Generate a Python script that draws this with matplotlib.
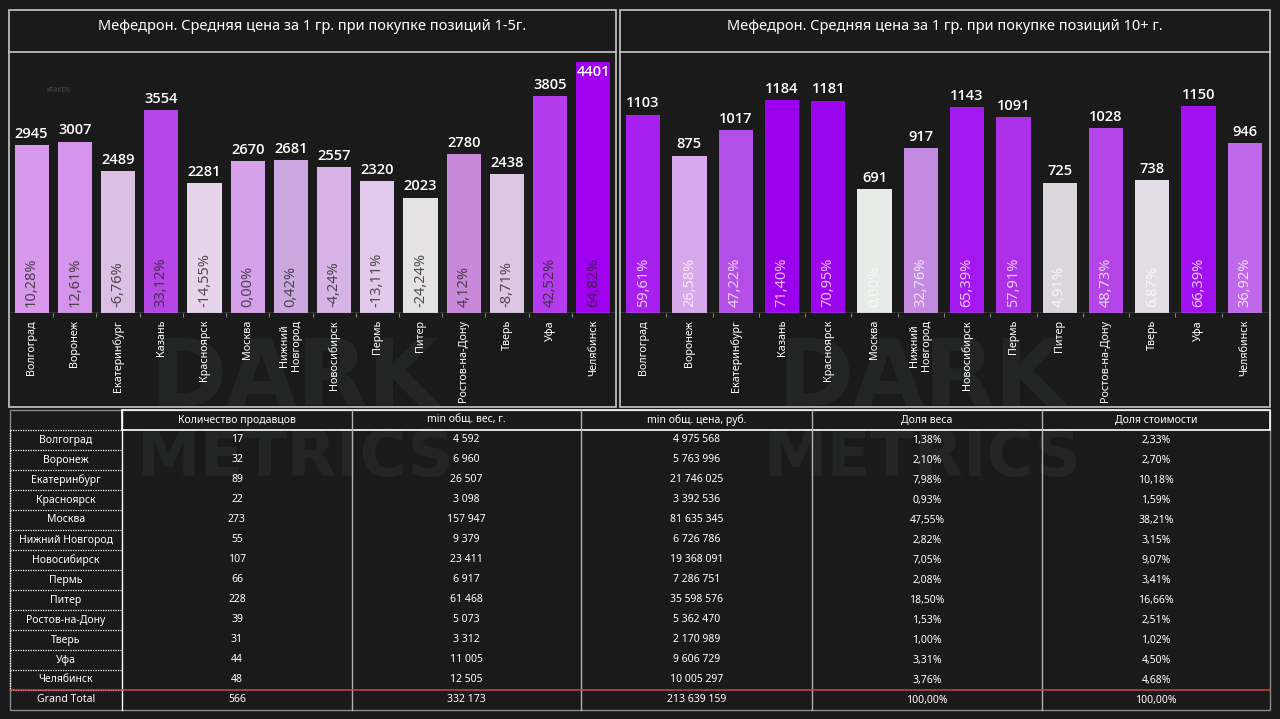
import matplotlib
matplotlib.use("Agg")
import matplotlib.pyplot as plt
from matplotlib.patches import Rectangle

# --- chart data ---
cities = ["Волгоград", "Воронеж", "Екатеринбург", "Казань", "Красноярск", "Москва",
          "Нижний\nНовгород", "Новосибирск", "Пермь", "Питер", "Ростов-на-Дону",
          "Тверь", "Уфа", "Челябинск"]
price_small = [2945, 3007, 2489, 3554, 2281, 2670, 2681, 2557, 2320, 2023, 2780, 2438, 3805, 4401]
pct_small = [10.28, 12.61, -6.76, 33.12, -14.55, 0.00, 0.42, -4.24, -13.11, -24.24, 4.12, -8.71, 42.52, 64.82]
price_large = [1103, 875, 1017, 1184, 1181, 691, 917, 1143, 1091, 725, 1028, 738, 1150, 946]
pct_large = [59.61, 26.58, 47.22, 71.40, 70.95, 0.00, 32.76, 65.39, 57.91, 4.91, 48.73, 6.87, 66.39, 36.92]

# --- table data ---
table_cities = ["Волгоград", "Воронеж", "Екатеринбург", "Красноярск", "Москва", "Нижний Новгород",
                "Новосибирск", "Пермь", "Питер", "Ростов-на-Дону", "Тверь", "Уфа", "Челябинск"]
sellers = [17, 32, 89, 22, 273, 55, 107, 66, 228, 39, 31, 44, 48]
min_weight = [4592, 6960, 26507, 3098, 157947, 9379, 23411, 6917, 61468, 5073, 3312, 11005, 12505]
min_price = [4975568, 5763996, 21746025, 3392536, 81635345, 6726786, 19368091, 7286751,
             35598576, 5362470, 2170989, 9606729, 10005297]
weight_share = [1.38, 2.10, 7.98, 0.93, 47.55, 2.82, 7.05, 2.08, 18.50, 1.53, 1.00, 3.31, 3.76]
cost_share = [2.33, 2.70, 10.18, 1.59, 38.21, 3.15, 9.07, 3.41, 16.66, 2.51, 1.02, 4.50, 4.68]
totals = ["566", "332 173", "213 639 159", "100,00%", "100,00%"]
headers = ["Количество продавцов", "min общ. вес, г.", "min общ. цена, руб.", "Доля веса", "Доля стоимости"]

# bar colours
colors_small = ["#d898ec", "#d494ea", "#dcc0e4", "#b646e6", "#e6d4ea", "#d6a0ea", "#cca8e0",
                "#d8b4e6", "#e2c8ea", "#e4e2e2", "#c888d8", "#dcc6e4", "#b43cee", "#a000f0"]
colors_large = ["#a820f0", "#d8a8ec", "#b34ee6", "#9a00ee", "#9c06ee", "#e6ece8", "#c48ae2",
                "#a318ee", "#ac30e8", "#dcd6dc", "#b444e8", "#e4dce6", "#a010f0", "#c068ec"]

BG = "#1b1a1a"
LINE = "#c8c8c8"
W, H = 1280, 719
BOLD_FONT = ["Open Sans", "Noto Sans", "DejaVu Sans"]

plt.rcParams["font.family"] = ["Noto Sans", "DejaVu Sans"]


def px(l, t, r, b):
    return [l / W, 1 - b / H, (r - l) / W, (b - t) / H]


def fmt_num(v):
    return f"{v:,}".replace(",", " ")


def fmt_pct(v):
    return f"{v:.2f}".replace(".", ",") + "%"


fig = plt.figure(figsize=(W / 100, H / 100), dpi=100, facecolor=BG)

# background / watermark layer
bg = fig.add_axes([0, 0, 1, 1], zorder=0)
bg.set_xlim(0, W)
bg.set_ylim(H, 0)
bg.axis("off")
for cx in (295, 922):
    bg.text(cx, 380, "DARK", ha="center", va="center", fontsize=66, fontweight="bold",
            color="#222524", family="DejaVu Sans")
    bg.text(cx, 458, "METRICS", ha="center", va="center", fontsize=46, fontweight="bold",
            color="#222524", family="DejaVu Sans")
bg.text(58, 90, "KRAKEN", ha="center", va="center", fontsize=4.5, color="#4a4a4a")


def draw_panel(rect, values, pcts, colors, ymax, width, pct_color, pct_alpha):
    ax = fig.add_axes(px(*rect), zorder=1)
    ax.set_facecolor("none")
    x = list(range(len(values)))
    ax.bar(x, values, width=width, color=colors, linewidth=0)
    ax.set_xlim(-0.5, len(values) - 0.5)
    ax.set_ylim(0, ymax)
    for i, (v, p) in enumerate(zip(values, pcts)):
        inside = v > ymax * 0.93
        ax.annotate(str(v), (i, v), xytext=(0, -2 if inside else 3), textcoords="offset points",
                    ha="center", va="top" if inside else "bottom", fontsize=10.5,
                    color="white", fontweight="semibold", family=BOLD_FONT)
        ax.annotate(fmt_pct(p), (i, 0), xytext=(0, 4), textcoords="offset points",
                    ha="center", va="bottom", rotation=90, fontsize=10.5,
                    color=pct_color, alpha=pct_alpha)
    for s in ax.spines.values():
        s.set_visible(False)
    ax.axhline(0, color="#9a9a9a", lw=1)
    ax.set_yticks([])
    ax.set_xticks(x)
    ax.set_xticklabels(cities, rotation=90, fontsize=7.8, color="white", linespacing=1.1)
    ax.tick_params(axis="x", length=0, pad=5)
    ax.set_xticks([i + 0.5 for i in x[:-1]], minor=True)
    ax.tick_params(axis="x", which="minor", length=3, color="#9a9a9a")
    return ax


draw_panel((10, 53, 615, 313), price_small, pct_small, colors_small, 4559, 0.79, "#2a2a2a", 0.8)
draw_panel((620, 53, 1268, 313), price_large, pct_large, colors_large, 1445, 0.74, "white", 0.75)

# overlay: frames, titles, table
ov = fig.add_axes([0, 0, 1, 1], zorder=2)
ov.set_facecolor("none")
ov.set_xlim(0, W)
ov.set_ylim(H, 0)
ov.axis("off")

for (l, r), title in zip([(9, 616), (620, 1270)],
                         ["Мефедрон. Средняя цена за 1 гр. при покупке позиций 1-5г.",
                          "Мефедрон. Средняя цена за 1 гр. при покупке позиций 10+ г."]):
    ov.add_patch(Rectangle((l, 10), r - l, 397, fill=False, ec=LINE, lw=1.2))
    ov.plot([l, r], [52, 52], color=LINE, lw=1.2)
    ov.text((l + r) / 2, 27, title, ha="center", va="center", fontsize=10.5, color="white")

# table
col_x = [10, 122, 352, 581, 812, 1042, 1270]
top, head_b, row_h = 410, 430, 20
n = len(table_cities)
total_t = head_b + n * row_h
bottom = total_t + row_h

ov.add_patch(Rectangle((10, top), 1260, bottom - top, fill=False, ec="#8a8a8a", lw=1))
ov.add_patch(Rectangle((122, top), 1148, head_b - top, fill=False, ec="white", lw=1.2))
for xc in col_x[1:-1]:
    ov.plot([xc, xc], [top, bottom], color="#b0b0b0" if xc != 122 else "white", lw=1)
for i in range(n + 1):
    y = head_b + i * row_h
    ov.plot([10, 122], [y, y], color="white", lw=0.9, ls=(0, (1, 1)))
ov.plot([10, 10], [head_b, total_t], color="white", lw=0.9, ls=(0, (1, 1)))
ov.plot([10, 1270], [total_t, total_t], color="#c84848", lw=1.1)

for j, h in enumerate(headers):
    ov.text((col_x[j + 1] + col_x[j + 2]) / 2, (top + head_b) / 2, h, ha="center", va="center",
            fontsize=7.5, color="white")

for i, c in enumerate(table_cities):
    yc = head_b + i * row_h + row_h / 2
    cells = [str(sellers[i]), fmt_num(min_weight[i]), fmt_num(min_price[i]),
             fmt_pct(weight_share[i]), fmt_pct(cost_share[i])]
    ov.text(66, yc, c, ha="center", va="center", fontsize=7.5, color="white")
    for j, s in enumerate(cells):
        ov.text((col_x[j + 1] + col_x[j + 2]) / 2, yc, s, ha="center", va="center",
                fontsize=7.5, color="white")

yc = total_t + row_h / 2
ov.text(66, yc, "Grand Total", ha="center", va="center", fontsize=7.5, color="white")
for j, s in enumerate(totals):
    ov.text((col_x[j + 1] + col_x[j + 2]) / 2, yc, s, ha="center", va="center",
            fontsize=7.5, color="white")

fig.savefig("out.png", dpi=100, facecolor=BG)
